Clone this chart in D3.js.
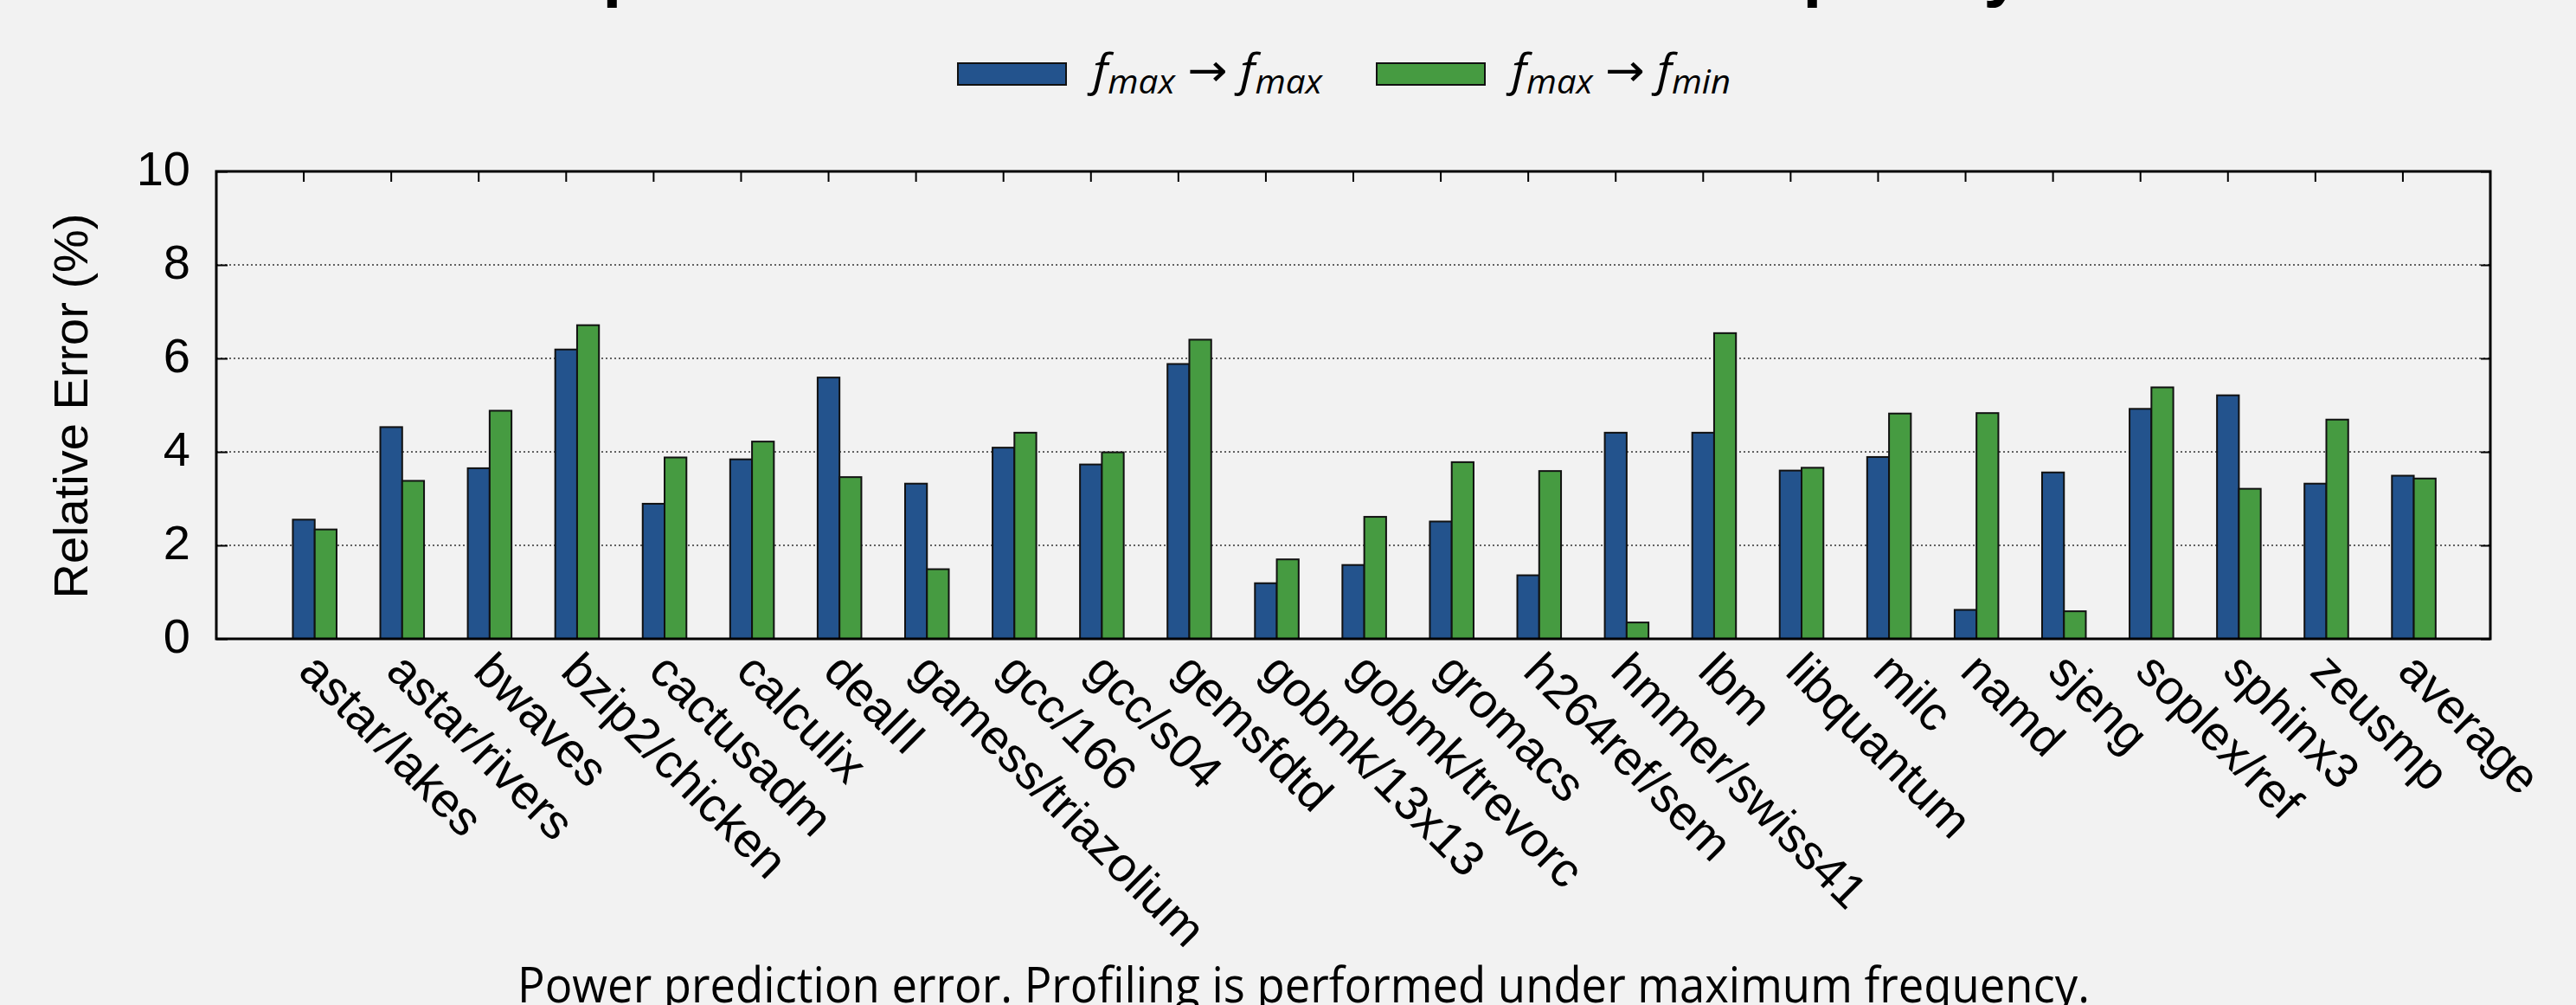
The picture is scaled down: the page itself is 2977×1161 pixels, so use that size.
<!DOCTYPE html>
<html>
<head>
<meta charset="utf-8">
<script src="https://cdn.jsdelivr.net/npm/d3@7"></script>
<style>
  html, body { margin: 0; padding: 0; background: #f2f2f2; }
  svg { display: block; }
</style>
</head>
<body>
<script>
// Benchmarks (SPEC CPU2006 workloads) plus the overall average
const categories = [
  "astar/lakes", "astar/rivers", "bwaves", "bzip2/chicken", "cactusadm", "calculix",
  "dealII", "gamess/triazolium", "gcc/166", "gcc/s04", "gemsfdtd", "gobmk/13x13",
  "gobmk/trevorc", "gromacs", "h264ref/sem", "hmmer/swiss41", "lbm", "libquantum",
  "milc", "namd", "sjeng", "soplex/ref", "sphinx3", "zeusmp", "average"
];

// Relative power prediction error (%), profiled at f_max, predicted at f_max
const errMaxToMax = [
  2.55, 4.53, 3.65, 6.19, 2.89, 3.84,
  5.59, 3.32, 4.09, 3.73, 5.88, 1.19,
  1.58, 2.51, 1.36, 4.41, 4.41, 3.60,
  3.89, 0.62, 3.56, 4.92, 5.21, 3.32, 3.49
];

// Relative power prediction error (%), profiled at f_max, predicted at f_min
const errMaxToMin = [
  2.34, 3.38, 4.88, 6.71, 3.88, 4.22,
  3.46, 1.49, 4.41, 3.99, 6.40, 1.70,
  2.61, 3.78, 3.59, 0.35, 6.54, 3.66,
  4.82, 4.83, 0.59, 5.38, 3.21, 4.69, 3.43
];

const yTicks = [0, 2, 4, 6, 8, 10];
const gridValues = [2, 4, 6, 8];

const W = 2977, H = 1161;
const plot = { left: 250, right: 2878, top: 198, bottom: 738 };
const colors = { maxToMax: "#23538d", maxToMin: "#469b41" };

const svg = d3.select("body").append("svg")
  .attr("width", W).attr("height", H);

svg.append("rect").attr("width", W).attr("height", H).attr("fill", "#f2f2f2");

// One unit of empty space before the first and after the last cluster
const x = d3.scaleBand()
  .domain(categories)
  .range([plot.left, plot.right])
  .paddingInner(0)
  .paddingOuter(0.5);

const y = d3.scaleLinear().domain([0, 10]).range([plot.bottom, plot.top]);

const step = x.step();
const barW = step * 0.25;
const center = d => x(d) + x.bandwidth() / 2;

// Dotted horizontal grid
svg.append("g").selectAll("line")
  .data(gridValues).join("line")
  .attr("x1", plot.left).attr("x2", plot.right)
  .attr("y1", d => y(d)).attr("y2", d => y(d))
  .attr("stroke", "#333").attr("stroke-width", 1.3)
  .attr("stroke-dasharray", "2,3");

// Bottom ticks (underneath the bars) and rotated benchmark names
const xBottom = svg.append("g")
  .attr("transform", `translate(0,${plot.bottom})`)
  .call(d3.axisBottom(x).tickSize(-12).tickSizeOuter(0));
xBottom.select(".domain").remove();
xBottom.selectAll(".tick line").attr("stroke", "#000").attr("stroke-width", 2);
xBottom.selectAll(".tick text")
  .attr("x", 0).attr("y", 0).attr("dy", 0)
  .attr("transform", "translate(-8,40) rotate(45)")
  .style("text-anchor", "start")
  .attr("fill", "#000")
  .style("font-family", "'Liberation Sans', Arial, sans-serif")
  .style("font-size", "56px");

// Bars: first series centred on the tick, second just to its right
const series = [
  { values: errMaxToMax, color: colors.maxToMax, offset: -barW / 2 },
  { values: errMaxToMin, color: colors.maxToMin, offset: barW / 2 }
];
series.forEach(s => {
  svg.append("g").selectAll("rect")
    .data(categories).join("rect")
    .attr("x", (d) => center(d) + s.offset)
    .attr("y", (d, i) => y(s.values[i]))
    .attr("width", barW)
    .attr("height", (d, i) => y(0) - y(s.values[i]))
    .attr("fill", s.color)
    .attr("stroke", "#111")
    .attr("stroke-width", 2);
});

// Left axis
const yLeft = svg.append("g")
  .attr("transform", `translate(${plot.left},0)`)
  .call(d3.axisLeft(y).tickValues(yTicks).tickSize(-13).tickPadding(30).tickFormat(d3.format("d")));
yLeft.select(".domain").remove();
yLeft.selectAll(".tick line").attr("stroke", "#000").attr("stroke-width", 2);
yLeft.selectAll(".tick text")
  .attr("dy", "0.27em")
  .attr("fill", "#000")
  .style("font-family", "'Liberation Sans', Arial, sans-serif")
  .style("font-size", "56px");

// Right axis (mirrored ticks)
const yRight = svg.append("g")
  .attr("transform", `translate(${plot.right},0)`)
  .call(d3.axisRight(y).tickValues(yTicks).tickSize(-11).tickFormat(""));
yRight.select(".domain").remove();
yRight.selectAll(".tick line").attr("stroke", "#000").attr("stroke-width", 2);

// Top axis (mirrored ticks)
const xTop = svg.append("g")
  .attr("transform", `translate(0,${plot.top})`)
  .call(d3.axisTop(x).tickSize(-12).tickFormat(""));
xTop.select(".domain").remove();
xTop.selectAll(".tick line").attr("stroke", "#000").attr("stroke-width", 2);

// Plot frame
svg.append("rect")
  .attr("x", plot.left).attr("y", plot.top)
  .attr("width", plot.right - plot.left).attr("height", plot.bottom - plot.top)
  .attr("fill", "none").attr("stroke", "#000").attr("stroke-width", 3);

// Y axis title
svg.append("text")
  .attr("transform", `translate(101,469) rotate(-90)`)
  .attr("text-anchor", "middle")
  .style("font-family", "'Liberation Sans', Arial, sans-serif")
  .style("font-size", "56px")
  .text("Relative Error (%)");

// Title (runs off the top edge)
svg.append("text")
  .attr("x", 434).attr("y", -8)
  .style("font-family", "'Liberation Sans', Arial, sans-serif")
  .style("font-weight", "bold")
  .style("font-size", "80px")
  .text("Power prediction error under maximum frequency");

// Legend
const legendItems = [
  { color: colors.maxToMax, box: 1107, textX: 1263, textLen: 265, to: "max" },
  { color: colors.maxToMin, box: 1591, textX: 1747, textLen: 253, to: "min" }
];
legendItems.forEach(it => {
  svg.append("rect")
    .attr("x", it.box).attr("y", 73)
    .attr("width", 125).attr("height", 25)
    .attr("fill", it.color).attr("stroke", "#111").attr("stroke-width", 2);
  const t = svg.append("text")
    .attr("x", it.textX).attr("y", 99)
    .attr("textLength", it.textLen)
    .attr("lengthAdjust", "spacingAndGlyphs")
    .style("font-family", "'Open Sans', 'DejaVu Sans', sans-serif")
    .style("font-style", "italic")
    .style("font-size", "52px");
  t.append("tspan").text("f");
  t.append("tspan").attr("dy", 9).style("font-size", "38px").text("max");
  t.append("tspan").attr("dy", -9).style("font-style", "normal").text(" \u2192 ");
  t.append("tspan").text("f");
  t.append("tspan").attr("dy", 9).style("font-size", "38px").text(it.to);
});

// Caption
svg.append("text")
  .attr("x", 598).attr("y", 1158)
  .attr("textLength", 1817)
  .attr("lengthAdjust", "spacingAndGlyphs")
  .style("font-family", "'Open Sans', 'DejaVu Sans', sans-serif")
  .style("font-size", "56px")
  .text("Power prediction error. Profiling is performed under maximum frequency.");
</script>
</body>
</html>
